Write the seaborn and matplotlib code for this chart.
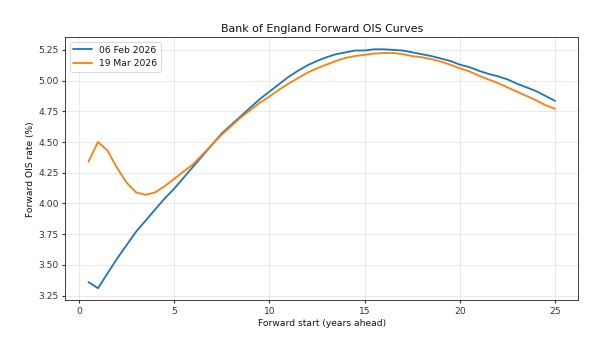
import numpy as np
import pandas as pd
import matplotlib
matplotlib.use("Agg")
import matplotlib.pyplot as plt
import seaborn as sns

# Forward start horizons (years ahead), half-year steps
horizon = [0.5, 1.0, 1.5, 2.0, 2.5, 3.0, 3.5, 4.0, 4.5, 5.0,
           5.5, 6.0, 6.5, 7.0, 7.5, 8.0, 8.5, 9.0, 9.5, 10.0,
           10.5, 11.0, 11.5, 12.0, 12.5, 13.0, 13.5, 14.0, 14.5, 15.0,
           15.5, 16.0, 16.5, 17.0, 17.5, 18.0, 18.5, 19.0, 19.5, 20.0,
           20.5, 21.0, 21.5, 22.0, 22.5, 23.0, 23.5, 24.0, 24.5, 25.0]

# Forward OIS rates (%) on 06 Feb 2026
feb_rates = [3.36, 3.31, 3.43, 3.55, 3.66, 3.77, 3.86, 3.95, 4.04, 4.12,
             4.21, 4.30, 4.39, 4.48, 4.57, 4.64, 4.71, 4.78, 4.85, 4.91,
             4.97, 5.03, 5.08, 5.125, 5.16, 5.19, 5.215, 5.23, 5.245, 5.245,
             5.255, 5.255, 5.25, 5.245, 5.23, 5.215, 5.20, 5.18, 5.16, 5.13,
             5.11, 5.08, 5.055, 5.035, 5.01, 4.975, 4.945, 4.915, 4.875, 4.835]

# Forward OIS rates (%) on 19 Mar 2026
mar_rates = [4.34, 4.50, 4.43, 4.29, 4.17, 4.09, 4.07, 4.09, 4.14, 4.20,
             4.26, 4.32, 4.40, 4.48, 4.56, 4.63, 4.70, 4.76, 4.82, 4.87,
             4.925, 4.975, 5.02, 5.065, 5.10, 5.13, 5.16, 5.185, 5.20, 5.21,
             5.22, 5.225, 5.225, 5.215, 5.20, 5.19, 5.175, 5.155, 5.13, 5.10,
             5.075, 5.04, 5.01, 4.98, 4.945, 4.91, 4.875, 4.84, 4.80, 4.77]

curve_dates = ["06 Feb 2026", "19 Mar 2026"]
y_ticks = [3.25, 3.50, 3.75, 4.00, 4.25, 4.50, 4.75, 5.00, 5.25]

df = pd.concat([
    pd.DataFrame({"horizon": horizon, "rate": feb_rates, "curve": curve_dates[0]}),
    pd.DataFrame({"horizon": horizon, "rate": mar_rates, "curve": curve_dates[1]}),
])

sns.set_theme(style="ticks", rc={
    "font.size": 10, "axes.titlesize": 12, "axes.labelsize": 10,
    "xtick.labelsize": 10, "ytick.labelsize": 10, "legend.fontsize": 10,
    "axes.edgecolor": "#333333", "axes.linewidth": 1.0,
    "xtick.major.size": 3.5, "ytick.major.size": 3.5,
    "xtick.color": "#333333", "ytick.color": "#333333",
    "text.color": "#111111", "axes.labelcolor": "#111111",
})
plt.rcParams["font.family"] = ["DejaVu Sans"]

DPI = 592 / 9
fig = plt.figure(figsize=(9, 349 / DPI), dpi=DPI)
ax = fig.add_axes([0.110, 0.140, 0.867, 0.753])

sns.lineplot(data=df, x="horizon", y="rate", hue="curve",
             palette=["#1f77b4", "#ff7f0e"], linewidth=2.0, ax=ax)

ax.margins(x=0.05, y=0.05)
ax.set_xticks([0, 5, 10, 15, 20, 25])
ax.set_yticks(y_ticks)
ax.set_yticklabels([f"{v:.2f}" for v in y_ticks])
ax.grid(True, color="#b0b0b0", alpha=0.35, linewidth=0.8)
ax.set_title("Bank of England Forward OIS Curves")
ax.set_xlabel("Forward start (years ahead)")
ax.set_ylabel("Forward OIS rate (%)")
leg = ax.legend(loc="upper left", title=None, frameon=True)
leg.get_frame().set_edgecolor("#cccccc")

fig.savefig("out.png", dpi=DPI)
